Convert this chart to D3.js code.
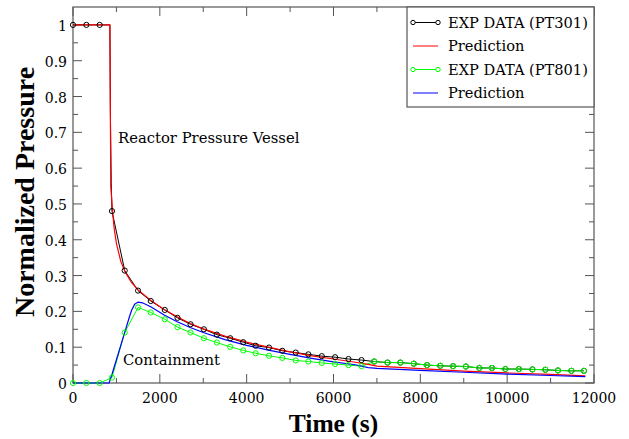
<!DOCTYPE html>
<html>
<head>
<meta charset="utf-8">
<script src="https://cdn.jsdelivr.net/npm/d3@7"></script>
<style>
  body { margin: 0; background: #fff; }
  svg text { font-family: "DejaVu Serif", serif; }
</style>
</head>
<body>
<svg id="chart" width="629" height="439"></svg>
<script>
// experimental data, markers
var expTime = [0, 307, 614, 898, 1191, 1498, 1791, 2114, 2407, 2707, 3014, 3314, 3621, 3921, 4207, 4514,
  4821, 5130, 5421, 5730, 6037, 6345, 6645, 6937, 7245, 7540, 7850, 8155, 8460, 8755, 9050, 9360,
  9650, 9960, 10270, 10580, 10880, 11170, 11480, 11768];
var pt301 = [1, 1, 1, 0.48, 0.314, 0.258, 0.229, 0.204, 0.182, 0.164, 0.150, 0.135, 0.125, 0.114, 0.104, 0.099,
  0.090, 0.085, 0.080, 0.075, 0.072, 0.067, 0.064, 0.060, 0.057, 0.057, 0.054, 0.050, 0.048, 0.047, 0.046, 0.042,
  0.042, 0.039, 0.039, 0.038, 0.037, 0.035, 0.034, 0.034];
var pt801 = [0, 0, 0, 0.015, 0.141, 0.211, 0.197, 0.178, 0.156, 0.141, 0.125, 0.113, 0.101, 0.091, 0.083, 0.076,
  0.070, 0.063, 0.060, 0.056, 0.053, 0.050, 0.047, 0.060, 0.057, 0.057, 0.054, 0.050, 0.048, 0.047, 0.046, 0.042,
  0.042, 0.039, 0.039, 0.038, 0.037, 0.035, 0.034, 0.034];
// extra points of the measured RPV trace during the blowdown
var pt301DropTime = [850, 862, 880];
var pt301DropVal = [1, 0.75, 0.56];

// predictions
var rpvPredTime = [0, 850, 858, 870, 910, 950, 1000, 1100, 1200, 1350, 1500, 1800, 2100, 2400, 2700, 3000,
  3500, 4000, 4500, 5000, 5500, 6000, 6500, 6800, 7000, 8000, 9000, 10000, 11000, 11800];
var rpvPred = [1, 1, 0.8, 0.55, 0.48, 0.43, 0.39, 0.34, 0.31, 0.28, 0.26, 0.23, 0.205, 0.185, 0.166, 0.151,
  0.131, 0.114, 0.1, 0.087, 0.076, 0.067, 0.058, 0.052, 0.047, 0.040, 0.033, 0.028, 0.024, 0.020];
var cntPredTime = [0, 830, 900, 1000, 1100, 1200, 1300, 1350, 1420, 1500, 1600, 1800, 2100, 2400, 2700, 3000,
  3500, 4000, 4500, 5000, 5500, 6000, 6500, 6800, 7000, 8000, 9000, 10000, 11000, 11800];
var cntPred = [0, 0, 0.025, 0.065, 0.105, 0.145, 0.185, 0.203, 0.22, 0.226, 0.224, 0.212, 0.19, 0.171, 0.155, 0.141,
  0.121, 0.105, 0.092, 0.08, 0.069, 0.059, 0.051, 0.043, 0.041, 0.035, 0.030, 0.025, 0.021, 0.018];

var xTicks = [0, 2000, 4000, 6000, 8000, 10000, 12000];
var yTicks = [0, 0.1, 0.2, 0.3, 0.4, 0.5, 0.6, 0.7, 0.8, 0.9, 1];
var legendLabels = ['EXP DATA (PT301)', 'Prediction', 'EXP DATA (PT801)', 'Prediction'];
var legendColors = ['#000', '#ff0000', '#00ff00', '#0000ff'];
var legendMarks = [true, false, true, false];

var svg = d3.select('#chart');
var pl = 73, pr = 594, pt = 7, pb = 383;

var x = d3.scaleLinear().domain([0, 12000]).range([pl, pr]);
var y = d3.scaleLinear().domain([0, 1.05]).range([pb, pt]);

var axisColor = '#555';

function pairs(t, v) {
  return t.map(function(d, i) { return [d, v[i]]; });
}

// frame
svg.append('rect')
  .attr('x', pl).attr('y', pt)
  .attr('width', pr - pl).attr('height', pb - pt)
  .attr('fill', 'none').attr('stroke', axisColor).attr('stroke-width', 1.2);

// ticks on all sides (inward)
var xMinor = d3.range(0, 12001, 1000);
var yMinor = d3.range(0, 21).map(function(i) { return i * 0.05; });

xMinor.forEach(function(t) {
  var len = (t % 2000 === 0) ? 9 : 5;
  svg.append('line').attr('x1', x(t)).attr('x2', x(t)).attr('y1', pb).attr('y2', pb - len)
    .attr('stroke', axisColor);
  svg.append('line').attr('x1', x(t)).attr('x2', x(t)).attr('y1', pt).attr('y2', pt + len)
    .attr('stroke', axisColor);
});
yMinor.forEach(function(t, i) {
  var len = (i % 2 === 0) ? 9 : 5;
  svg.append('line').attr('y1', y(t)).attr('y2', y(t)).attr('x1', pl).attr('x2', pl + len)
    .attr('stroke', axisColor);
  svg.append('line').attr('y1', y(t)).attr('y2', y(t)).attr('x1', pr).attr('x2', pr - len)
    .attr('stroke', axisColor);
});

// tick labels
svg.selectAll('.xl').data(xTicks).enter().append('text')
  .attr('x', function(d) { return x(d); })
  .attr('y', 403)
  .attr('text-anchor', 'middle')
  .attr('font-size', 14)
  .text(function(d) { return d; });

svg.selectAll('.yl').data(yTicks).enter().append('text')
  .attr('x', 67)
  .attr('y', function(d) { return y(d) + 6; })
  .attr('text-anchor', 'end')
  .attr('font-size', 14)
  .text(function(d) { return d; });

// axis titles
svg.append('text')
  .attr('x', (pl + pr) / 2).attr('y', 432)
  .attr('text-anchor', 'middle')
  .style('font-family', '"Liberation Serif", serif')
  .attr('font-weight', 'bold').attr('font-size', 25.5)
  .text('Time (s)');

svg.append('text')
  .attr('transform', 'translate(34,' + 192 + ') rotate(-90)')
  .attr('text-anchor', 'middle')
  .style('font-family', '"Liberation Serif", serif')
  .attr('font-weight', 'bold').attr('font-size', 28)
  .text('Normalized Pressure');

var line = d3.line()
  .x(function(d) { return x(d[0]); })
  .y(function(d) { return y(d[1]); });

var rpvExpLine = pairs(expTime, pt301).concat(pairs(pt301DropTime, pt301DropVal))
  .sort(function(a, b) { return a[0] - b[0]; });

// measured lines
svg.append('path').datum(rpvExpLine).attr('d', line)
  .attr('fill', 'none').attr('stroke', '#000').attr('stroke-width', 1);
svg.append('path').datum(pairs(expTime, pt801)).attr('d', line)
  .attr('fill', 'none').attr('stroke', '#00ff00').attr('stroke-width', 1);

// predictions
svg.append('path').datum(pairs(rpvPredTime, rpvPred)).attr('d', line)
  .attr('fill', 'none').attr('stroke', '#ff0000').attr('stroke-width', 1.2);
svg.append('path').datum(pairs(cntPredTime, cntPred)).attr('d', line)
  .attr('fill', 'none').attr('stroke', '#0000ff').attr('stroke-width', 1.2);

// markers
svg.selectAll('.m1').data(pairs(expTime, pt301)).enter().append('circle')
  .attr('cx', function(d) { return x(d[0]); })
  .attr('cy', function(d) { return y(d[1]); })
  .attr('r', 2.6).attr('fill', 'none').attr('stroke', '#000');
svg.selectAll('.m2').data(pairs(expTime, pt801)).enter().append('circle')
  .attr('cx', function(d) { return x(d[0]); })
  .attr('cy', function(d) { return y(d[1]); })
  .attr('r', 2.6).attr('fill', 'none').attr('stroke', '#00ff00');

// annotations
svg.append('text').attr('x', 118).attr('y', 143).attr('font-size', 14.8)
  .text('Reactor Pressure Vessel');
svg.append('text').attr('x', 123).attr('y', 365).attr('font-size', 14.8)
  .text('Containment');

// legend
var lg = svg.append('g');
lg.append('rect').attr('x', 407).attr('y', pt).attr('width', pr - 407).attr('height', 100)
  .attr('fill', '#fff').attr('stroke', axisColor).attr('stroke-width', 1.2);
legendLabels.forEach(function(lab, i) {
  var yy = 22.5 + i * 23.5;
  lg.append('line').attr('x1', 413).attr('x2', 438).attr('y1', yy).attr('y2', yy)
    .attr('stroke', legendColors[i]);
  if (legendMarks[i]) {
    [413, 438].forEach(function(xx) {
      lg.append('circle').attr('cx', xx).attr('cy', yy).attr('r', 2.2)
        .attr('fill', '#fff').attr('stroke', legendColors[i]);
    });
  }
  lg.append('text').attr('x', 448).attr('y', yy + 5).attr('font-size', 14.6).text(lab);
});
</script>
</body>
</html>
